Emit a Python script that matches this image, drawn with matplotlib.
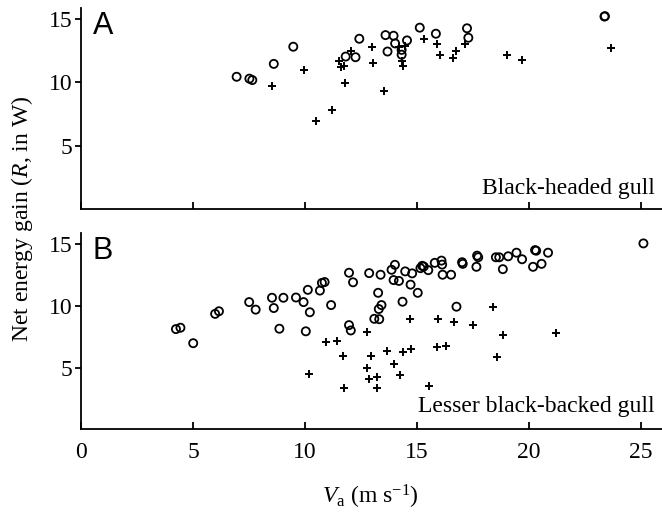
import numpy as np
import matplotlib
matplotlib.use('Agg')
import matplotlib.pyplot as plt

plt.rcParams['font.family'] = ['Liberation Serif', 'DejaVu Serif']
plt.rcParams['mathtext.fontset'] = 'custom'
plt.rcParams['mathtext.rm'] = 'Liberation Serif'
plt.rcParams['mathtext.it'] = 'Liberation Serif:italic'

# Panel A: black-headed gull
a_circ_va = [6.95, 7.52, 7.65, 8.61, 9.48, 11.82, 12.26, 12.43, 13.6, 13.69, 13.96, 14.03,
             14.32, 14.32, 14.56, 15.13, 15.85, 17.24, 17.3, 23.38, 23.4]
a_circ_r = [10.45, 10.3, 10.19, 11.47, 12.83, 12.05, 12.0, 13.46, 13.75, 12.45, 13.7, 13.09,
            12.58, 12.2, 13.33, 14.34, 13.86, 14.29, 13.54, 15.22, 15.25]
a_plus_va = [8.52, 9.94, 10.5, 11.22, 11.52, 11.63, 11.73, 11.79, 12.05, 12.98, 13.05, 13.52,
             14.22, 14.32, 14.36, 14.47, 15.32, 15.9, 16.03, 16.62, 16.77, 17.15, 19.04, 19.7, 23.65]
a_plus_r = [9.74, 11.0, 6.94, 7.79, 11.68, 11.22, 11.3, 9.95, 12.48, 12.83, 11.57, 9.31,
            12.77, 11.7, 11.3, 12.9, 13.46, 13.07, 12.18, 11.94, 12.53, 13.01, 12.21, 11.76, 12.72]

# Panel B: lesser black-backed gull
b_circ_va = [4.24, 4.44, 5.01, 5.99, 6.16, 7.51, 7.8, 8.53, 8.61, 8.86, 9.04, 9.6, 9.94, 10.04,
             10.13, 10.22, 10.67, 10.76, 10.88, 11.17, 11.97, 12.15, 11.97, 12.05,
             12.87, 13.38, 13.27, 13.42, 13.3, 13.1, 13.32, 13.87, 14.02, 13.96, 14.2,
             14.48, 14.79, 14.72, 14.36, 15.04, 15.16, 15.24, 15.31, 15.51, 15.8, 16.1,
             16.13, 16.15, 16.53, 16.77, 17.02, 17.05, 17.69, 17.74, 17.66, 18.53, 18.68,
             18.84, 19.08, 19.45, 19.7, 20.28, 20.33, 20.19, 20.57, 20.86, 25.12]
b_circ_r = [8.11, 8.22, 6.97, 9.34, 9.55, 10.29, 9.68, 10.64, 9.81, 8.14, 10.64, 10.66, 10.29, 7.93,
            11.28, 9.47, 11.22, 11.84, 11.91, 10.05, 12.66, 11.89, 8.43, 8.0,
            12.63, 12.5, 11.04, 10.05, 9.73, 8.94, 8.91, 12.9, 13.3, 12.07, 12.0,
            12.77, 12.61, 11.7, 10.32, 11.04, 13.03, 13.22, 13.16, 12.87, 13.46, 13.64,
            13.32, 12.5, 12.5, 9.92, 13.51, 13.38, 14.04, 13.91, 13.14, 13.91, 13.91,
            12.95, 13.99, 14.28, 13.75, 14.49, 14.44, 13.14, 13.38, 14.28, 15.03]
b_plus_va = [10.19, 10.93, 11.44, 11.72, 11.74, 12.78, 12.95, 12.77, 12.87, 13.24, 13.23, 13.66,
             13.97, 14.26, 14.36, 14.72, 14.7, 15.55, 15.92, 16.28, 15.95, 16.64, 17.5,
             18.38, 18.86, 18.57, 21.22]
b_plus_r = [4.47, 7.05, 7.18, 5.9, 3.35, 7.9, 5.9, 5.0, 4.04, 4.26, 3.38, 6.33,
            5.27, 4.39, 6.28, 6.49, 8.96, 3.51, 6.68, 6.76, 8.96, 8.67, 8.48,
            9.87, 7.61, 5.82, 7.77]

x_ticks = [0, 5, 10, 15, 20, 25]
y_ticks = [5, 10, 15]


def style_axes(ax, show_xlabels):
    ax.set_xlim(0, 25.95)
    ax.set_ylim(0, 15.9)
    for side in ['top', 'right']:
        ax.spines[side].set_visible(False)
    for side in ['left', 'bottom']:
        ax.spines[side].set_linewidth(1.3)
    ax.set_xticks(x_ticks)
    ax.set_yticks(y_ticks)
    ax.tick_params(axis='x', direction='in', length=5, width=1.3, labelsize=17, pad=9)
    ax.tick_params(axis='y', direction='out', length=4, width=1.3, labelsize=17, pad=2)
    if not show_xlabels:
        ax.set_xticklabels([])


def draw_points(ax, cva, cr, pva, pr):
    ax.scatter(cva, cr, s=34, facecolors='none', edgecolors='black', linewidths=1.3, clip_on=False)
    ax.scatter(pva, pr, s=32, marker='+', color='black', linewidths=1.4, clip_on=False)


fig = plt.figure(figsize=(6.62, 5.14), dpi=100)
ax_a = fig.add_axes([0.1224, 0.594, 0.8776, 0.3905])
ax_b = fig.add_axes([0.1224, 0.1644, 0.8776, 0.383])

draw_points(ax_a, a_circ_va, a_circ_r, a_plus_va, a_plus_r)
draw_points(ax_b, b_circ_va, b_circ_r, b_plus_va, b_plus_r)
style_axes(ax_a, False)
style_axes(ax_b, True)

ax_a.text(0.02, 0.985, 'A', transform=ax_a.transAxes, fontsize=22,
          family='Liberation Sans', va='top', ha='left')
ax_b.text(0.02, 0.985, 'B', transform=ax_b.transAxes, fontsize=22,
          family='Liberation Sans', va='top', ha='left')
ax_a.text(0.988, 0.103, 'Black-headed gull', transform=ax_a.transAxes, fontsize=17,
          ha='right', va='center')
ax_b.text(0.988, 0.116, 'Lesser black-backed gull', transform=ax_b.transAxes, fontsize=17,
          ha='right', va='center')

fig.text(0.033, 0.574, 'Net energy gain ($R$, in W)', rotation=90, fontsize=17,
         ha='center', va='center')
fig.text(0.56, 0.033, r'$V_\mathrm{a}$ (m s$^{-1}$)', fontsize=17, ha='center', va='center')

fig.savefig('out.png', dpi=100)
